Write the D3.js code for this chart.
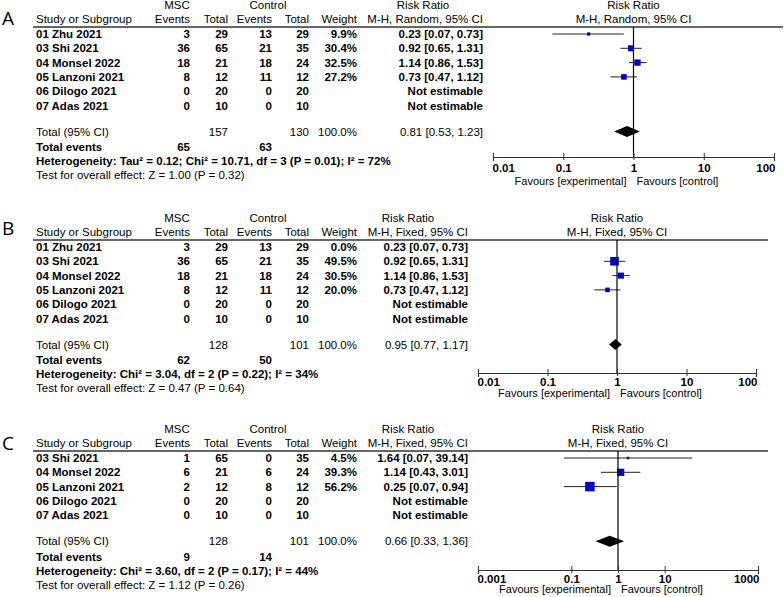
<!DOCTYPE html>
<html><head><meta charset="utf-8">
<script src="https://cdn.jsdelivr.net/npm/d3@7"></script>
<style>
body{margin:0;background:#fff;}
svg text{font-family:"Liberation Sans",Arial,sans-serif;fill:#000;}
</style></head>
<body><svg id="chart" width="784" height="597"></svg>
<script>
// ---------- DATA ----------
const panelLabels = ["A", "B", "C"];
const methodLabels = ["M-H, Random, 95% CI", "M-H, Fixed, 95% CI", "M-H, Fixed, 95% CI"];

const studiesAB = ["01 Zhu 2021", "03 Shi 2021", "04 Monsel 2022", "05 Lanzoni 2021", "06 Dilogo 2021", "07 Adas 2021"];
const mscEventsAB = [3, 36, 18, 8, 0, 0];
const mscTotalAB = [29, 65, 21, 12, 20, 10];
const ctrlEventsAB = [13, 21, 18, 11, 0, 0];
const ctrlTotalAB = [29, 35, 24, 12, 20, 10];
const rrAB = [0.23, 0.92, 1.14, 0.73, null, null];
const lowAB = [0.07, 0.65, 0.86, 0.47, null, null];
const highAB = [0.73, 1.31, 1.53, 1.12, null, null];
const weightA = [9.9, 30.4, 32.5, 27.2, null, null];
const weightB = [0.0, 49.5, 30.5, 20.0, null, null];

const studiesC = ["03 Shi 2021", "04 Monsel 2022", "05 Lanzoni 2021", "06 Dilogo 2021", "07 Adas 2021"];
const mscEventsC = [1, 6, 2, 0, 0];
const mscTotalC = [65, 21, 12, 20, 10];
const ctrlEventsC = [0, 6, 8, 0, 0];
const ctrlTotalC = [35, 24, 12, 20, 10];
const rrC = [1.64, 1.14, 0.25, null, null];
const lowC = [0.07, 0.43, 0.07, null, null];
const highC = [39.14, 3.01, 0.94, null, null];
const weightC = [4.5, 39.3, 56.2, null, null];

const totalMsc = [157, 128, 128];
const totalCtrl = [130, 101, 101];
const totalRR = [0.81, 0.95, 0.66];
const totalLow = [0.53, 0.77, 0.33];
const totalHigh = [1.23, 1.17, 1.36];
const totalEventsMsc = [65, 62, 9];
const totalEventsCtrl = [63, 50, 14];
const heterogeneity = [
  "Heterogeneity: Tau² = 0.12; Chi² = 10.71, df = 3 (P = 0.01); I² = 72%",
  "Heterogeneity: Chi² = 3.04, df = 2 (P = 0.22); I² = 34%",
  "Heterogeneity: Chi² = 3.60, df = 2 (P = 0.17); I² = 44%"
];
const overallEffect = [
  "Test for overall effect: Z = 1.00 (P = 0.32)",
  "Test for overall effect: Z = 0.47 (P = 0.64)",
  "Test for overall effect: Z = 1.12 (P = 0.26)"
];
const tickValuesAB = [0.01, 0.1, 1, 10, 100];
const tickLabelsAB = ["0.01", "0.1", "1", "10", "100"];
const tickValuesC = [0.001, 0.1, 1, 10, 1000];
const tickLabelsC = ["0.001", "0.1", "1", "10", "1000"];

// ---------- LAYOUT ----------
const panels = [
  {label: panelLabels[0], method: methodLabels[0], studies: studiesAB, me: mscEventsAB, mt: mscTotalAB, ce: ctrlEventsAB, ct: ctrlTotalAB,
   rr: rrAB, lo: lowAB, hi: highAB, w: weightA, ticks: tickValuesAB, tickLabels: tickLabelsAB,
   y0: 5, range: [493, 774], axisY: 157, lineEnd: 783, rrRight: 483, letterY: 25, labOff: 11, favOff: 24},
  {label: panelLabels[1], method: methodLabels[1], studies: studiesAB, me: mscEventsAB, mt: mscTotalAB, ce: ctrlEventsAB, ct: ctrlTotalAB,
   rr: rrAB, lo: lowAB, hi: highAB, w: weightB, ticks: tickValuesAB, tickLabels: tickLabelsAB,
   y0: 218, range: [478, 756], axisY: 373, lineEnd: 768, rrRight: 468, letterY: 235, labOff: 9, favOff: 20.5},
  {label: panelLabels[2], method: methodLabels[2], studies: studiesC, me: mscEventsC, mt: mscTotalC, ce: ctrlEventsC, ct: ctrlTotalC,
   rr: rrC, lo: lowC, hi: highC, w: weightC, ticks: tickValuesC, tickLabels: tickLabelsC,
   y0: 429, range: [478, 758], axisY: 570, lineEnd: 768, rrRight: 468, letterY: 450, labOff: 8.5, favOff: 19.5}
];

const svg = d3.select("#chart");
const fmt2 = d3.format(".2f");
const fmtW = d => d.toFixed(1) + "%";
const sideScale = d3.scaleLinear().domain([0, 60]).range([1.9, 10]);

const col = {me: 190, mt: 228, ce: 272, ct: 309, w: 357};
const FS = "11.5px";

function txt(g, x, y, s, anchor, weight, size) {
  return g.append("text").attr("x", x).attr("y", y).attr("dy", "0.35em")
    .attr("text-anchor", anchor || "start").style("font-weight", weight || "bold")
    .style("font-size", size || FS).text(s);
}

panels.forEach((p, pi) => {
  const g = svg.append("g");
  const dom = [p.ticks[0], p.ticks[p.ticks.length - 1]];
  const x = d3.scaleLog().domain(dom).range(p.range);
  const rowY = i => p.y0 + 29 + 14.3 * i;
  const n = p.studies.length;
  const totalY = rowY(n - 1) + 26;

  // panel letter
  g.append("text").attr("x", 2).attr("y", p.letterY).style("font-family", "'Open Sans',sans-serif")
    .style("font-size", "19px").style("font-weight", "normal").text(p.label);

  // headers
  txt(g, 177, p.y0, "MSC", "middle", "normal");
  txt(g, 268, p.y0, "Control", "middle", "normal");
  txt(g, p.rrRight - 60, p.y0, "Risk Ratio", "middle", "normal");
  txt(g, x(1), p.y0, "Risk Ratio", "middle", "normal");
  const h2 = p.y0 + 14;
  txt(g, 36, h2, "Study or Subgroup", "start", "normal");
  txt(g, col.me, h2, "Events", "end", "normal");
  txt(g, col.mt, h2, "Total", "end", "normal");
  txt(g, col.ce, h2, "Events", "end", "normal");
  txt(g, col.ct, h2, "Total", "end", "normal");
  txt(g, col.w, h2, "Weight", "end", "normal");
  txt(g, p.rrRight, h2, p.method, "end", "normal");
  txt(g, x(1), h2, p.method, "middle", "normal");

  // header rule
  g.append("line").attr("x1", 33).attr("x2", p.lineEnd).attr("y1", p.y0 + 22).attr("y2", p.y0 + 22)
    .attr("stroke", "#333").attr("stroke-width", 1.4);

  // study rows
  p.studies.forEach((s, i) => {
    const y = rowY(i);
    txt(g, 36, y, s);
    txt(g, col.me, y, p.me[i], "end");
    txt(g, col.mt, y, p.mt[i], "end");
    txt(g, col.ce, y, p.ce[i], "end");
    txt(g, col.ct, y, p.ct[i], "end");
    if (p.w[i] != null) txt(g, col.w, y, fmtW(p.w[i]), "end");
    if (p.rr[i] != null) {
      txt(g, p.rrRight, y, `${fmt2(p.rr[i])} [${fmt2(p.lo[i])}, ${fmt2(p.hi[i])}]`, "end");
      if (p.w[i] > 0) {
        g.append("line").attr("x1", x(p.lo[i])).attr("x2", x(p.hi[i])).attr("y1", y).attr("y2", y)
          .attr("stroke", "#222").attr("stroke-width", 1);
        const sd = sideScale(p.w[i]);
        g.append("rect").attr("x", x(p.rr[i]) - sd / 2).attr("y", y - sd / 2)
          .attr("width", sd).attr("height", sd).attr("fill", "#0000cc");
      }
    } else {
      txt(g, p.rrRight, y, "Not estimable", "end");
    }
  });

  // totals
  txt(g, 36, totalY, "Total (95% CI)", "start", "normal");
  txt(g, col.mt, totalY, totalMsc[pi], "end", "normal");
  txt(g, col.ct, totalY, totalCtrl[pi], "end", "normal");
  txt(g, col.w, totalY, "100.0%", "end", "normal");
  txt(g, p.rrRight, totalY, `${fmt2(totalRR[pi])} [${fmt2(totalLow[pi])}, ${fmt2(totalHigh[pi])}]`, "end", "normal");
  const dy = 5.5;
  g.append("path").attr("d", `M${x(totalLow[pi])},${totalY} L${x(totalRR[pi])},${totalY - dy} L${x(totalHigh[pi])},${totalY} L${x(totalRR[pi])},${totalY + dy} Z`)
    .attr("fill", "#000");

  const evY = totalY + 15.5;
  txt(g, 36, evY, "Total events");
  txt(g, col.me, evY, totalEventsMsc[pi], "end");
  txt(g, col.ce, evY, totalEventsCtrl[pi], "end");
  txt(g, 36, evY + 14, heterogeneity[pi]);
  txt(g, 36, evY + 28, overallEffect[pi], "start", "normal");

  // vertical line at 1
  g.append("line").attr("x1", x(1)).attr("x2", x(1)).attr("y1", p.y0 + 22).attr("y2", p.axisY)
    .attr("stroke", "#000").attr("stroke-width", 1.2);

  // axis
  const axis = d3.axisBottom(x).tickValues(p.ticks).tickFormat((d, i) => p.tickLabels[i]).tickSizeOuter(0).tickSize(4);
  const ag = g.append("g").attr("transform", `translate(0,${p.axisY})`).call(axis);
  ag.select(".domain").attr("stroke", "#333").attr("stroke-width", 1.2);
  ag.selectAll(".tick line").attr("y1", -4).attr("y2", 3).attr("stroke", "#333");
  ag.selectAll(".tick text").attr("y", p.labOff).attr("dy", "0.35em")
    .style("font-family", "'Liberation Sans',Arial,sans-serif").style("font-size", "11.5px").style("font-weight", "bold").attr("fill", "#000");
  ag.selectAll(".tick text").filter((d, i) => i === 0).attr("text-anchor", "start").attr("dx", "-1");
  ag.selectAll(".tick text").filter((d, i) => i === p.ticks.length - 1).attr("text-anchor", "end").attr("dx", "1");

  txt(g, x(1) - 7, p.axisY + p.favOff, "Favours [experimental]", "end", "normal", "11px");
  txt(g, x(1) + 3, p.axisY + p.favOff, "Favours [control]", "start", "normal", "11px");
});
</script></body></html>
